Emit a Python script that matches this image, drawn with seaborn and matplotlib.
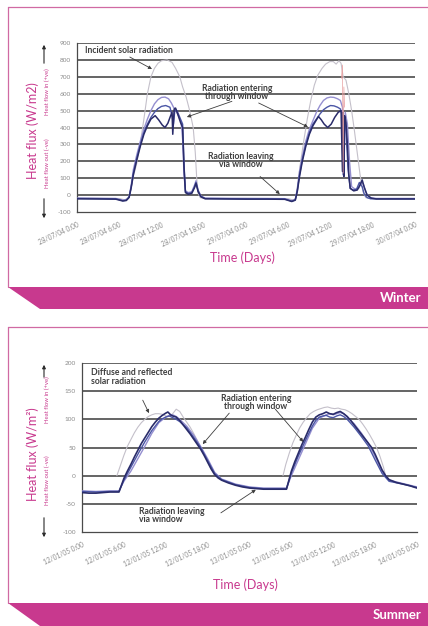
import matplotlib
matplotlib.use("Agg")
import matplotlib.pyplot as plt
from matplotlib.patches import Polygon, FancyArrowPatch
from matplotlib.lines import Line2D
import pandas as pd
import seaborn as sns

# ---------------- Winter (28-30 July 2004), hours from 28/07/04 0:00 ----------------
winter_ticks = ["28/07/04 0:00", "28/07/04 6:00", "28/07/04 12:00", "28/07/04 18:00",
                "29/07/04 0:00", "29/07/04 6:00", "29/07/04 12:00", "29/07/04 18:00",
                "30/07/04 0:00"]
winter_yticks = [-100, 0, 100, 200, 300, 400, 500, 600, 700, 800, 900]

w_incident_h = [0, 3, 6, 6.8, 7.3, 7.6, 8.0, 8.5, 9.0, 9.5, 10.0, 10.5, 11.0, 11.5, 12.0, 12.8,
                13.5, 14.0, 14.6, 15.0, 15.5, 16.0, 16.5, 16.8, 17.0, 17.2, 17.5, 18.0, 21, 24,
                27, 30, 30.8, 31.1, 31.3, 31.7, 32.2, 32.7, 33.2, 33.7, 34.2, 34.8, 35.3, 35.9,
                36.4, 36.8, 37.2, 37.5, 37.8, 38.2, 38.6, 39.0, 39.4, 39.8, 40.2, 40.6, 41.0,
                42, 45, 48]
w_incident_v = [-18, -19, -20, -28, -15, 20, 110, 190, 310, 450, 600, 700, 750, 780, 795, 800,
                785, 750, 700, 640, 580, 500, 400, 250, 100, 10, -15, -20, -20, -19,
                -20, -21, -30, -15, 50, 180, 320, 450, 560, 650, 710, 750, 775, 790,
                790, 775, 795, 780, 700, 680, 600, 500, 380, 250, 120, 20, -15,
                -20, -20, -20]

w_lilac_h = [0, 3, 5.5, 6.5, 7.0, 7.4, 7.7, 8.0, 8.5, 9.0, 9.5, 10.0, 10.5, 11.0, 11.5, 12.0,
             12.5, 13.0, 13.4, 13.7, 14.0, 14.4, 14.8, 15.0, 15.2, 15.4, 15.8, 16.3, 16.7, 16.9,
             17.2, 17.6, 18.2, 21, 24, 27, 29.5, 30.5, 31.0, 31.3, 31.6, 32.0, 32.5, 33.0, 33.5,
             34.0, 34.5, 35.0, 35.5, 36.0, 36.5, 37.0, 37.4, 37.7, 37.9, 38.1, 38.4, 38.7, 39.0,
             39.5, 40.0, 40.4, 40.7, 41.1, 41.6, 42.5, 45, 48]
w_lilac_v = [-18, -19, -20, -30, -28, -10, 60, 150, 240, 320, 390, 450, 500, 540, 565, 578,
             580, 570, 545, 520, 505, 470, 430, 330, 120, 25, 15, 20, 60, 85,
             30, -5, -18, -19, -20, -20, -21, -33, -25, 40, 140, 230, 320, 390, 440,
             490, 530, 560, 575, 580, 578, 570, 560, 520, 150, 490, 420, 200, 50,
             35, 40, 80, 60, 10, -15, -20, -20, -20]

w_blue_h = [0, 3, 5.5, 6.5, 7.0, 7.4, 7.7, 8.0, 8.5, 9.0, 9.5, 10.0, 10.5, 11.0, 11.5, 12.0,
            12.6, 13.2, 13.5, 13.7, 13.9, 14.2, 14.6, 15.0, 15.2, 15.4, 15.8, 16.3, 16.7, 16.9,
            17.2, 17.6, 18.2, 21, 24, 27, 29.5, 30.5, 31.0, 31.3, 31.6, 32.0, 32.5, 33.0, 33.5,
            34.0, 34.5, 35.0, 35.5, 36.0, 36.5, 37.0, 37.4, 37.6, 37.8, 38.0, 38.2, 38.5, 38.8,
            39.2, 39.7, 40.1, 40.5, 40.8, 41.2, 41.7, 42.5, 45, 48]
w_blue_v = [-20, -21, -22, -33, -30, -12, 50, 130, 220, 300, 370, 420, 460, 490, 512, 525,
            530, 520, 470, 420, 505, 500, 460, 420, 180, 20, 10, 15, 50, 75,
            25, -8, -20, -21, -22, -22, -23, -36, -28, 30, 120, 210, 300, 370, 420,
            450, 480, 505, 520, 530, 528, 520, 510, 480, 120, 460, 380, 150, 40,
            30, 35, 75, 50, 5, -15, -22, -22, -22, -22]

w_dark_h = [0, 3, 5.5, 6.5, 7.0, 7.4, 7.7, 8.0, 8.5, 9.0, 9.5, 10.0, 10.5, 11.1, 11.6, 12.1,
            12.5, 12.9, 13.3, 13.5, 13.6, 13.8, 14.0, 14.3, 14.7, 15.0, 15.2, 15.4, 15.8, 16.3,
            16.7, 16.9, 17.2, 17.6, 18.2, 21, 24, 27, 29.5, 30.5, 31.0, 31.3, 31.6, 32.0,
            32.5, 33.0, 33.5, 34.0, 34.3, 34.7, 35.1, 35.6, 36.1, 36.6, 37.1, 37.5, 37.7,
            37.8, 37.9, 38.0, 38.2, 38.4, 38.6, 38.8, 39.3, 39.8, 40.2, 40.5, 40.8, 41.2,
            41.8, 42.5, 45, 48]
w_dark_v = [-22, -23, -24, -35, -32, -14, 45, 120, 210, 290, 360, 410, 450, 470, 445, 415,
            400, 425, 470, 490, 360, 510, 515, 480, 430, 400, 160, 15, 5, 10,
            45, 70, 20, -10, -22, -23, -24, -24, -25, -38, -30, 25, 110, 200,
            290, 360, 410, 445, 465, 445, 420, 400, 420, 460, 490, 500, 140,
            490, 110, 470, 430, 300, 120, 40, 25, 30, 60, 90, 45, 0,
            -18, -23, -23, -23]

# second incident sensor, visible only around the afternoon glitch on day 2
w_red_h = [37.55, 37.7, 37.8, 37.9, 38.0]
w_red_v = [690, 770, 130, 640, 520]

# ---------------- Summer (12-14 January 2005), hours from 12/01/05 0:00 ----------------
summer_ticks = ["12/01/05 0:00", "12/01/05 6:00", "12/01/05 12:00", "12/01/05 18:00",
                "13/01/05 0:00", "13/01/05 6:00", "13/01/05 12:00", "13/01/05 18:00",
                "14/01/05 0:00"]
summer_yticks = [-100, -50, 0, 50, 100, 150, 200]

s_dark_h = [0, 1, 2, 3, 4, 5, 5.3, 6, 6.5, 7, 7.5, 8, 8.5, 9, 9.5, 10, 10.5, 11, 11.5, 12,
            12.3, 12.7, 13, 13.5, 14, 14.5, 15, 15.5, 16, 16.5, 17, 17.5, 18, 18.5, 19, 19.5,
            20, 21, 22, 23, 24, 25, 26, 27, 28, 29, 29.3, 30, 30.5, 31, 31.5, 32, 32.5, 33,
            33.5, 34, 34.5, 35, 35.5, 36, 36.5, 37, 37.5, 38, 38.5, 39, 39.5, 40, 40.5, 41,
            41.5, 42, 42.5, 43, 43.5, 44, 45, 46, 47, 48]
s_dark_v = [-30, -31, -31, -30, -29, -29, -29, -5, 8, 20, 33, 45, 57, 67, 77, 87, 95, 102, 107, 111,
            113, 108, 106, 104, 98, 90, 82, 74, 65, 56, 47, 36, 24, 12, 2, -4,
            -8, -13, -17, -20, -22, -23, -24, -24, -24, -24, -24, 8, 25, 40, 55, 68, 82, 95,
            104, 108, 110, 113, 110, 109, 112, 114, 110, 105, 98, 90, 82, 74, 66, 58,
            50, 38, 24, 10, 0, -7, -12, -15, -18, -22]

s_blue_h = [0, 2, 4, 5.3, 6, 7, 8, 9, 10, 11, 11.5, 12, 12.5, 13, 13.5, 14, 15, 16, 17, 18,
            19, 20, 22, 24, 26, 28, 29.3, 30, 31, 32, 33, 33.5, 34, 34.5, 35, 35.5, 36, 36.5,
            37, 37.5, 38, 39, 40, 41, 42, 43, 44, 46, 48]
s_blue_v = [-28, -29, -28, -28, -8, 15, 38, 60, 80, 96, 101, 104, 106, 103, 100, 96, 85, 68, 50, 27,
            4, -7, -16, -21, -23, -23, -23, 5, 35, 62, 88, 98, 104, 106, 107, 104, 103, 106,
            108, 105, 100, 86, 70, 53, 28, 4, -10, -15, -21]

s_lilac_h = [0, 2, 4, 5.3, 6, 7, 8, 9, 10, 11, 12, 12.5, 13, 13.5, 14, 15, 16, 17, 18, 19,
             20, 22, 24, 26, 28, 29.3, 30, 31, 32, 33, 34, 35, 35.5, 36, 36.5, 37, 37.5, 38,
             39, 40, 41, 42, 43, 44, 46, 48]
s_lilac_v = [-27, -28, -27, -27, -10, 8, 30, 52, 75, 94, 104, 107, 108, 105, 100, 88, 72, 52, 30, 6,
             -6, -15, -20, -22, -22, -22, 0, 28, 56, 84, 102, 108, 110, 108, 110, 112, 110, 104,
             92, 76, 58, 34, 8, -8, -14, -20]

# diffuse and reflected radiation, one daylight segment per day
s_diffuse1_h = [5.0, 5.5, 6, 6.5, 7, 7.5, 8, 8.5, 9, 9.5, 10, 10.5, 11, 11.5, 12, 12.5, 13,
                13.5, 14, 14.5, 15, 15.5, 16, 16.5, 17, 17.5, 18, 18.5, 19, 19.3]
s_diffuse1_v = [0, 18, 36, 52, 64, 76, 86, 94, 100, 105, 108, 110, 110, 109, 106, 105, 110,
                118, 114, 104, 95, 86, 75, 63, 50, 38, 24, 12, 2, 0]
s_diffuse2_h = [28.8, 29.2, 29.7, 30.2, 30.7, 31.2, 31.7, 32.2, 32.7, 33.2, 33.7, 34.2, 34.7,
                35.2, 35.7, 36.2, 36.7, 37.2, 37.7, 38.2, 38.7, 39.2, 39.7, 40.2, 40.7, 41.2,
                41.7, 42.2, 42.7, 43.2, 43.5]
s_diffuse2_v = [0, 20, 40, 58, 72, 85, 95, 103, 110, 114, 117, 119, 121, 122, 120, 119, 120,
                118, 117, 114, 110, 105, 100, 92, 83, 73, 62, 50, 34, 15, 0]

# ---------------- styling ----------------
MAGENTA = "#c8398e"
FRAME = "#d06aa3"
GRID = "#3a3a3a"
TXT = "#3e3e3e"
TICKC = "#8a8a8a"
C_DARK, C_BLUE, C_LILAC, C_GREY, C_RED = "#2a2c6a", "#4b56a6", "#958fd0", "#c4c0ca", "#e8a0a0"

sns.set_style("white")
plt.rcParams["font.family"] = ["Lato", "DejaVu Sans"]

W, H = 428, 626
fig = plt.figure(figsize=(W / 100, H / 100), dpi=100)
fig.patch.set_facecolor("white")


def fx(px):
    return px / W


def fy(py):
    return 1 - py / H


def draw_line(ax, hours, vals, color, lw, z, seg=None):
    df = pd.DataFrame({"hour": hours, "flux": vals,
                       "seg": seg if seg is not None else [0] * len(hours)})
    sns.lineplot(data=df, x="hour", y="flux", units="seg", estimator=None, sort=False,
                 color=color, linewidth=lw, ax=ax, legend=False, zorder=z)


def style_axes(ax, yticks, xlabels):
    ax.set_xlim(0, 48)
    ax.set_ylim(yticks[0], yticks[-1])
    for v in yticks[1:]:
        ax.axhline(v, color=GRID, lw=1.1, zorder=1)
    for s in ["top", "right"]:
        ax.spines[s].set_visible(False)
    for s in ["left", "bottom"]:
        ax.spines[s].set_color("#4a4a4a")
        ax.spines[s].set_linewidth(0.9)
    ax.set_yticks(yticks)
    ax.set_yticklabels([str(v) for v in yticks], fontsize=4.6, color=TICKC)
    ax.set_xticks(range(0, 49, 6))
    ax.set_xticks(range(0, 49, 3), minor=True)
    ax.set_xticklabels(xlabels, fontsize=4.7, color=TICKC, rotation=25,
                       ha="right", rotation_mode="anchor")
    ax.tick_params(axis="x", which="both", direction="inout", length=3.5, width=0.7,
                   color="#4a4a4a", pad=5)
    ax.tick_params(axis="y", direction="out", length=2.5, width=0.7, color="#4a4a4a", pad=2)
    ax.set_xlabel("")
    ax.set_ylabel("")
    ax.set_facecolor("none")


def arrow(ax, start, tip):
    ax.annotate("", xy=tip, xytext=start, textcoords="data",
                arrowprops=dict(arrowstyle="-|>", color=TXT, lw=0.6, mutation_scale=5,
                                shrinkA=0, shrinkB=0), zorder=6)


def note(ax, x, y, s, ha="center"):
    ax.text(x, y, s, ha=ha, va="center", fontsize=6.2, fontweight="bold", color=TXT,
            linespacing=0.95, zorder=6)


def panel_frame(top, band_top, band_bot, name):
    fig.add_artist(Line2D([fx(8), fx(428)], [fy(top), fy(top)], color=FRAME, lw=0.9))
    fig.add_artist(Line2D([fx(8), fx(8)], [fy(top), fy(band_top)], color=FRAME, lw=0.9))
    band = Polygon([(fx(8), fy(band_top)), (fx(428), fy(band_top)), (fx(428), fy(band_bot)),
                    (fx(40), fy(band_bot))], closed=True, transform=fig.transFigure,
                   facecolor=MAGENTA, edgecolor="none")
    fig.add_artist(band)
    fig.text(fx(421), fy((band_top + band_bot) / 2 + 0.5), name, ha="right", va="center",
             color="white", fontsize=9.5, fontweight="bold")


def side_labels(cx, cy, main, in_y, out_y, up, down):
    fig.text(fx(cx), fy(cy), main, rotation=90, ha="center", va="center",
             color=MAGENTA, fontsize=9)
    fig.text(fx(cx + 14), fy(in_y), "Heat flow in (+ve)", rotation=90, ha="center",
             va="center", color=MAGENTA, fontsize=4.3)
    fig.text(fx(cx + 14), fy(out_y), "Heat flow out (-ve)", rotation=90, ha="center",
             va="center", color=MAGENTA, fontsize=4.3)
    for (a, b) in (up, down):
        fig.add_artist(FancyArrowPatch((fx(cx + 11), fy(a)), (fx(cx + 11), fy(b)),
                                       transform=fig.transFigure, arrowstyle="-|>",
                                       mutation_scale=5, color="#2a2a2a", lw=0.8))


# ---------------- Winter panel ----------------
panel_frame(7, 287, 309, "Winter")
ax1 = fig.add_axes([fx(77), fy(212), (415 - 77) / W, 169 / H])
draw_line(ax1, w_incident_h, w_incident_v, C_GREY, 0.8, 2)
draw_line(ax1, w_lilac_h, w_lilac_v, C_LILAC, 1.0, 3)
draw_line(ax1, w_blue_h, w_blue_v, C_BLUE, 1.0, 4)
draw_line(ax1, w_dark_h, w_dark_v, C_DARK, 1.1, 5)
draw_line(ax1, w_red_h, w_red_v, C_RED, 0.5, 5)
style_axes(ax1, winter_yticks, winter_ticks)

note(ax1, 1.1, 858, "Incident solar radiation", ha="left")
arrow(ax1, (7.5, 817), (10.65, 746))
note(ax1, 22.7, 607, "Radiation entering\nthrough window")
arrow(ax1, (22.0, 555), (15.6, 462))
arrow(ax1, (25.8, 545), (32.8, 403))
note(ax1, 23.3, 205, "Radiation leaving\nvia window")
arrow(ax1, (26.0, 110), (28.8, 6))

side_labels(33, 131, "Heat flux (W/m2)", 92, 163, (66, 42), (196, 221))
fig.text(fx(242), fy(258), "Time (Days)", ha="center", va="center", color=MAGENTA, fontsize=9)

# ---------------- Summer panel ----------------
panel_frame(327, 603, 626, "Summer")
ax2 = fig.add_axes([fx(82), fy(532), (417 - 82) / W, 169 / H])
draw_line(ax2, s_diffuse1_h + s_diffuse2_h, s_diffuse1_v + s_diffuse2_v, C_GREY, 0.8, 2,
          seg=[0] * len(s_diffuse1_h) + [1] * len(s_diffuse2_h))
draw_line(ax2, s_lilac_h, s_lilac_v, C_LILAC, 1.0, 3)
draw_line(ax2, s_blue_h, s_blue_v, C_BLUE, 1.0, 4)
draw_line(ax2, s_dark_h, s_dark_v, C_DARK, 1.2, 5)
style_axes(ax2, summer_yticks, summer_ticks)

note(ax2, 1.3, 175, "Diffuse and reflected\nsolar radiation", ha="left")
arrow(ax2, (8.7, 134), (9.6, 111))
note(ax2, 24.9, 130, "Radiation entering\nthrough window")
arrow(ax2, (21.1, 111), (17.3, 56))
arrow(ax2, (27.7, 118), (31.7, 60))
note(ax2, 8.2, -71, "Radiation leaving\nvia window", ha="left")
arrow(ax2, (19.9, -66), (24.9, -25))

side_labels(33, 454, "Heat flux (W/m\u00b2)", 400, 480, (380, 362), (515, 540))
fig.text(fx(245), fy(585), "Time (Days)", ha="center", va="center", color=MAGENTA, fontsize=9)

fig.savefig("out.png", dpi=100, facecolor="white")
